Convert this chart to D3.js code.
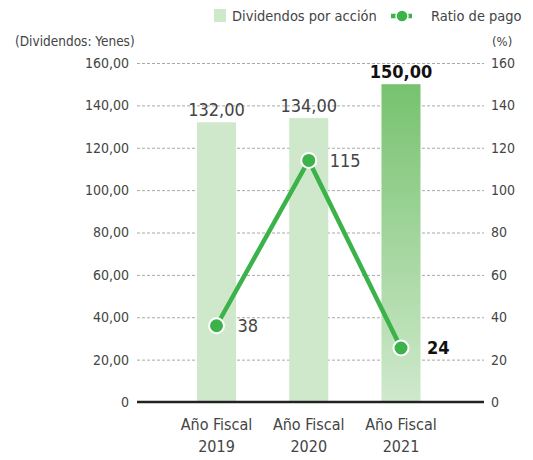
<!DOCTYPE html>
<html>
<head>
<meta charset="utf-8">
<script src="https://cdn.jsdelivr.net/npm/d3@7"></script>
<style>
  body { margin: 0; background: #fff; }
  svg text { font-family: "DejaVu Sans Condensed", "DejaVu Sans", sans-serif; fill: #444; }
</style>
</head>
<body>
<svg></svg>
<script>
var width = 533;
var height = 460;

// data
var years = ["2019", "2020", "2021"];
var dividends = [132, 134, 150];
var dividendLabels = ["132,00", "134,00", "150,00"];
var ratio = [36, 114, 25.5];
var ratioLabels = ["38", "115", "24"];
var leftTicks = [0, 20, 40, 60, 80, 100, 120, 140, 160];

var svg = d3.select("svg")
    .attr("width", width)
    .attr("height", height);

var x0 = 137, x1 = 484;

var x = d3.scaleBand()
    .domain(years)
    .range([197, 420.5])
    .paddingInner(0.577)
    .paddingOuter(0);

var y = d3.scaleLinear().domain([0, 160]).range([402, 63]);
var y2 = d3.scaleLinear().domain([0, 160]).range([402, 63]);

var green = "#3bb24a";

// gradient for the 2021 bar
var defs = svg.append("defs");
var grad = defs.append("linearGradient")
    .attr("id", "hl")
    .attr("x1", 0).attr("y1", 0).attr("x2", 0).attr("y2", 1);
grad.append("stop").attr("offset", "0%").attr("stop-color", "#77c26f");
grad.append("stop").attr("offset", "100%").attr("stop-color", "#cfe9cc");

// grid
svg.append("g").selectAll("line")
    .data(leftTicks.slice(1))
  .enter().append("line")
    .attr("x1", x0).attr("x2", x1)
    .attr("y1", function(d) { return y(d) + 0.5; })
    .attr("y2", function(d) { return y(d) + 0.5; })
    .style("stroke", "#a8a8a8")
    .style("stroke-width", 1)
    .style("stroke-dasharray", "3,2");

// left axis labels
svg.append("g").selectAll("text")
    .data(leftTicks)
  .enter().append("text")
    .attr("x", 129)
    .attr("y", function(d) { return y(d); })
    .attr("dy", "0.35em")
    .attr("text-anchor", "end")
    .style("font-size", "14px")
    .text(function(d) { return d === 0 ? "0" : d3.format(".2f")(d).replace(".", ","); });

// right axis labels
svg.append("g").selectAll("text")
    .data(leftTicks)
  .enter().append("text")
    .attr("x", 491)
    .attr("y", function(d) { return y2(d); })
    .attr("dy", "0.35em")
    .style("font-size", "14px")
    .text(function(d) { return d; });

svg.append("text").attr("x", 15).attr("y", 46).style("font-size", "13.5px").text("(Dividendos: Yenes)");
svg.append("text").attr("x", 492).attr("y", 46).style("font-size", "13px").text("(%)");

// bars
svg.append("g").selectAll("rect")
    .data(dividends)
  .enter().append("rect")
    .attr("x", function(d, i) { return x(years[i]); })
    .attr("width", x.bandwidth())
    .attr("y", function(d) { return y(d); })
    .attr("height", function(d) { return y(0) - y(d); })
    .style("fill", function(d, i) { return i == 2 ? "url(#hl)" : "#cfe8cc"; });

// bar labels
svg.append("g").selectAll("text")
    .data(dividends)
  .enter().append("text")
    .attr("x", function(d, i) { return x(years[i]) + x.bandwidth() / 2; })
    .attr("y", function(d) { return y(d) - 6; })
    .attr("text-anchor", "middle")
    .style("font-size", "18px")
    .style("font-weight", function(d, i) { return i == 2 ? "bold" : "normal"; })
    .style("fill", function(d, i) { return i == 2 ? "#111" : "#444"; })
    .text(function(d, i) { return dividendLabels[i]; });

// baseline
svg.append("line")
    .attr("x1", x0).attr("x2", x1)
    .attr("y1", y(0)).attr("y2", y(0))
    .style("stroke", "#222")
    .style("stroke-width", 2.5);

// x labels
var xl = svg.append("g").selectAll("text")
    .data(years)
  .enter().append("text")
    .attr("x", function(d) { return x(d) + x.bandwidth() / 2; })
    .attr("y", 430)
    .attr("text-anchor", "middle")
    .style("font-size", "16px");
xl.append("tspan").text("Año Fiscal");
xl.append("tspan")
    .attr("x", function(d) { return x(d) + x.bandwidth() / 2; })
    .attr("dy", 22)
    .text(function(d) { return d; });

// ratio line
var line = d3.line()
    .x(function(d, i) { return x(years[i]) + x.bandwidth() / 2; })
    .y(function(d) { return y2(d); });

svg.append("path")
    .datum(ratio)
    .attr("d", line)
    .style("fill", "none")
    .style("stroke", green)
    .style("stroke-width", 4.5);

svg.append("g").selectAll("circle")
    .data(ratio)
  .enter().append("circle")
    .attr("cx", function(d, i) { return x(years[i]) + x.bandwidth() / 2; })
    .attr("cy", function(d) { return y2(d); })
    .attr("r", 7.5)
    .style("fill", green)
    .style("stroke", "#fff")
    .style("stroke-width", 2);

svg.append("g").selectAll("text")
    .data(ratio)
  .enter().append("text")
    .attr("x", function(d, i) { return x(years[i]) + x.bandwidth() / 2 + (i == 2 ? 26 : 21); })
    .attr("y", function(d) { return y2(d); })
    .attr("dy", "0.35em")
    .style("font-size", "18px")
    .style("font-weight", function(d, i) { return i == 2 ? "bold" : "normal"; })
    .style("fill", function(d, i) { return i == 2 ? "#111" : "#444"; })
    .text(function(d, i) { return ratioLabels[i]; });

// legend
var lg = svg.append("g");
lg.append("rect").attr("x", 214).attr("y", 9).attr("width", 12).attr("height", 13).style("fill", "#cfe8cc");
lg.append("text").attr("x", 232).attr("y", 21).style("font-size", "14.5px").text("Dividendos por acción");
lg.append("line").attr("x1", 391).attr("x2", 412).attr("y1", 16).attr("y2", 16)
    .style("stroke", green).style("stroke-width", 4.5);
lg.append("circle").attr("cx", 402).attr("cy", 16).attr("r", 6).style("fill", green).style("stroke", "#fff").style("stroke-width", 1.5);
lg.append("text").attr("x", 431).attr("y", 21).style("font-size", "14.5px").text("Ratio de pago");
</script>
</body>
</html>
